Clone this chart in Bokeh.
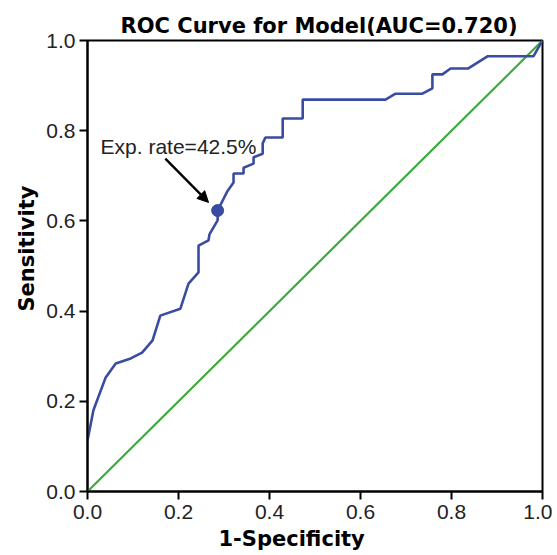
from bokeh.plotting import figure
from bokeh.models import Label, Arrow, NormalHead, FixedTicker, NumeralTickFormatter, Title
from bokeh.embed import file_html
from bokeh.resources import INLINE

# ROC curve (1-Specificity, Sensitivity)
fpr = [0.0, 0.013, 0.04, 0.062, 0.095, 0.12, 0.143, 0.16, 0.204, 0.222, 0.244, 0.244,
       0.266, 0.268, 0.286, 0.286, 0.307, 0.321, 0.321, 0.343, 0.343, 0.365, 0.365,
       0.385, 0.385, 0.391, 0.429, 0.429, 0.473, 0.473, 0.655, 0.677, 0.736, 0.758,
       0.758, 0.780, 0.798, 0.837, 0.879, 0.980, 1.0]
tpr = [0.113, 0.18, 0.253, 0.284, 0.295, 0.308, 0.335, 0.39, 0.405, 0.461, 0.486, 0.545,
       0.557, 0.57, 0.601, 0.623, 0.665, 0.685, 0.705, 0.705, 0.718, 0.727, 0.741,
       0.749, 0.772, 0.785, 0.785, 0.827, 0.827, 0.869, 0.869, 0.882, 0.882, 0.894,
       0.925, 0.925, 0.938, 0.938, 0.965, 0.965, 1.0]
ref_x = [0.0, 1.0]
ref_y = [0.0, 1.0]
cut_x = [0.286]
cut_y = [0.623]
cut_label = "Exp. rate=42.5%"
title = "ROC Curve for Model(AUC=0.720)"
x_label = "1-Specificity"
y_label = "Sensitivity"
ticks = [0.0, 0.2, 0.4, 0.6, 0.8, 1.0]

FONT = "Liberation Sans"
BOLD = "DejaVu Sans"
BLUE = "#3a4ca2"
GREEN = "#3aab3a"

p = figure(width=552, height=555, output_backend="svg", toolbar_location=None,
           x_range=(0, 1), y_range=(0, 1),
           min_border_left=87, min_border_right=10, min_border_top=40, min_border_bottom=64)
p.title.text = title
p.title.align = "left"
p.title.offset = 33
p.title.text_font = BOLD
p.title.text_font_size = "21px"
p.title.text_font_style = "bold"
p.title.text_color = "black"
p.title.standoff = 6

p.grid.visible = False
p.outline_line_color = "black"
p.outline_line_width = 2

for ax in (p.xaxis[0], p.yaxis[0]):
    ax.ticker = FixedTicker(ticks=ticks)
    ax.formatter = NumeralTickFormatter(format="0.0")
    ax.minor_tick_line_color = None
    ax.major_tick_in = 0
    ax.major_tick_out = 8
    ax.major_tick_line_width = 2
    ax.axis_line_width = 2
    ax.major_label_text_font = FONT
    ax.major_label_text_font_size = "21px"
    ax.major_label_text_color = "#222222"

p.xaxis[0].major_label_standoff = 5
p.yaxis[0].major_label_standoff = 4

# axis titles as side titles so they can sit off-centre as in the reference
xt = Title(text=x_label, align="left", offset=131, standoff=7,
           text_font=BOLD, text_font_size="21px", text_font_style="bold", text_color="black")
p.add_layout(xt, "below")
yt = Title(text=y_label, align="left", offset=180, standoff=10,
           text_font=BOLD, text_font_size="21px", text_font_style="bold", text_color="black")
p.add_layout(yt, "left")

p.line(ref_x, ref_y, line_color=GREEN, line_width=2.2)
p.line(fpr, tpr, line_color=BLUE, line_width=2.6)
p.scatter(cut_x, cut_y, size=12, fill_color=BLUE, line_color=BLUE)

p.add_layout(Label(x=0.2, y=0.765, text=cut_label, text_font=FONT, text_font_size="21px",
                   text_align="center", text_baseline="middle", text_color="#222222"))
p.add_layout(Arrow(x_start=0.171, y_start=0.738, x_end=0.266, y_end=0.641,
                   line_width=2.4, line_color="black",
                   end=NormalHead(size=11, fill_color="black", line_color="black")))

open("out.html", "w").write(file_html(p, INLINE))
